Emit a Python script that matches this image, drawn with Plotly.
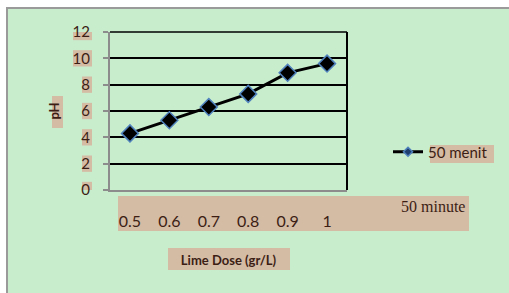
import plotly.graph_objects as go

categories = ["0.5", "0.6", "0.7", "0.8", "0.9", "1"]
ph_50min = [4.3, 5.3, 6.3, 7.3, 8.9, 9.6]
y_ticks = [0, 2, 4, 6, 8, 10, 12]
series_name = "50 menit"
note_text = "50 minute"
x_title = "Lime Dose (gr/L)"
y_title = "pH"

GREEN = "#c8edcd"
TAN = "#d4bba4"
TXT = "#3c1e14"

W, H = 509, 293
L, R, T, B = 110, 162, 32, 103
PW, PH = W - L - R, H - T - B


def px(x):
    return (x - L) / PW


def py(y):
    return (T + PH - y) / PH


fig = go.Figure()
fig.add_trace(go.Scatter(
    x=categories, y=ph_50min, mode="lines+markers", showlegend=False,
    line=dict(color="black", width=3),
    marker=dict(symbol="diamond", size=13, color="black",
                line=dict(color="#4f81bd", width=1.5)),
))
fig.add_trace(go.Scatter(
    x=[None], y=[None], mode="lines+markers", name=series_name,
    line=dict(color="black", width=3),
    marker=dict(symbol="diamond", size=7, color="#1f3f6f",
                line=dict(color="#4f81bd", width=1.5)),
))

shapes = []
# green panel with gray border
shapes.append(dict(type="rect", xref="paper", yref="paper", layer="below",
                   x0=px(7), x1=px(512), y0=py(298), y1=py(8),
                   fillcolor=GREEN, line=dict(color="#9a9a9a", width=2)))
# x tick label band
shapes.append(dict(type="rect", xref="paper", yref="paper", layer="below",
                   x0=px(118), x1=px(469), y0=py(231), y1=py(196),
                   fillcolor=TAN, line=dict(width=0)))
# y tick label boxes
for v in y_ticks:
    w = 19 if v >= 10 else 10
    shapes.append(dict(type="rect", xref="paper", yref="y", layer="below",
                       x0=px(92 - w), x1=px(92), y0=v - 0.62, y1=v + 0.62,
                       fillcolor=TAN, line=dict(width=0)))
# y title box
shapes.append(dict(type="rect", xref="paper", yref="paper", layer="below",
                   x0=px(52), x1=px(63), y0=py(128), y1=py(96),
                   fillcolor=TAN, line=dict(width=0)))
# x title box
shapes.append(dict(type="rect", xref="paper", yref="paper", layer="below",
                   x0=px(168), x1=px(290), y0=py(270), y1=py(248),
                   fillcolor=TAN, line=dict(width=0)))
# legend text box
shapes.append(dict(type="rect", xref="paper", yref="paper", layer="below",
                   x0=px(430), x1=px(494), y0=py(163), y1=py(145),
                   fillcolor=TAN, line=dict(width=0)))
# right border and top edge of plot area
shapes.append(dict(type="line", xref="paper", yref="paper", layer="above",
                   x0=1, x1=1, y0=0, y1=1, line=dict(color="black", width=2)))
shapes.append(dict(type="line", xref="paper", yref="paper", layer="above",
                   x0=0, x1=1, y0=1, y1=1, line=dict(color="black", width=1.5)))

fig.update_layout(
    width=W, height=H,
    margin=dict(l=L, r=R, t=T, b=B, autoexpand=False),
    paper_bgcolor="white", plot_bgcolor=GREEN,
    font=dict(family="Lato", color=TXT, size=15),
    shapes=shapes,
    showlegend=True,
    legend=dict(x=px(388), y=py(152), xanchor="left", yanchor="middle",
                bgcolor="rgba(0,0,0,0)", font=dict(size=15, color=TXT)),
    annotations=[dict(text=note_text, xref="paper", yref="paper",
                      x=px(467), y=py(207), xanchor="right", yanchor="middle",
                      showarrow=False,
                      font=dict(family="Liberation Serif", size=16, color=TXT))],
)
fig.update_xaxes(
    type="category", showgrid=False, zeroline=False,
    showline=True, linecolor="#8c8c8c", linewidth=2,
    ticks="", ticklabelstandoff=16,
    tickfont=dict(size=16, color=TXT),
    title=dict(text="<b>" + x_title + "</b>", standoff=27,
               font=dict(size=13, color=TXT)),
)
fig.update_yaxes(
    range=[0, 12], tickvals=y_ticks, showgrid=True, gridcolor="black",
    gridwidth=1.5, zeroline=False,
    showline=True, linecolor="#8c8c8c", linewidth=2,
    ticks="outside", ticklen=5, tickcolor="#8c8c8c", tickwidth=1.5,
    ticklabelstandoff=10,
    tickfont=dict(size=15, color=TXT),
    title=dict(text="<b>" + y_title + "</b>", standoff=10,
               font=dict(size=13, color=TXT)),
)

fig.write_html("out.html", config={"displayModeBar": False},
               post_script="document.body.style.margin='0px';")
